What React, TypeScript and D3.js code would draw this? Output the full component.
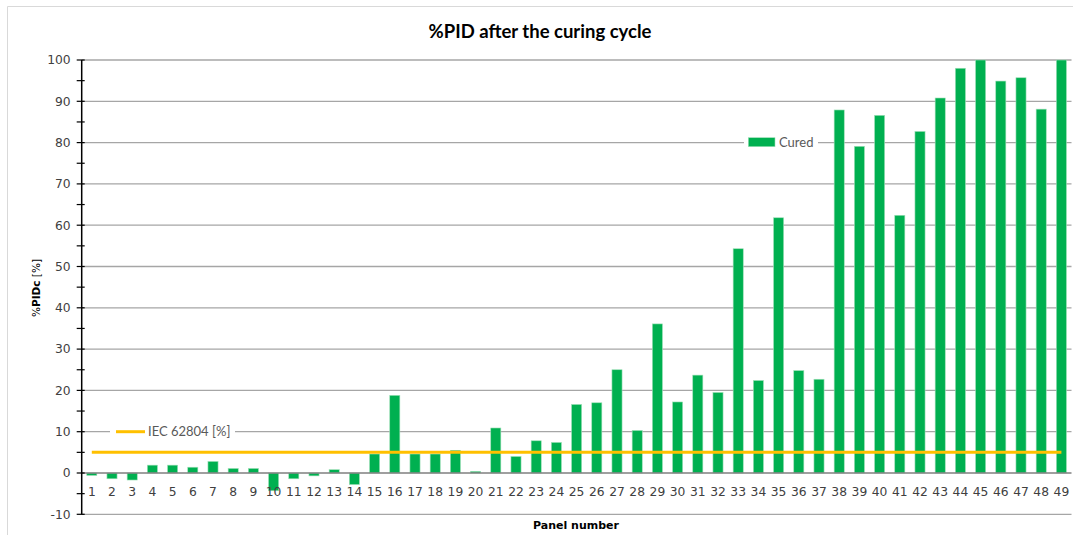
import React from "react";
import * as d3 from "d3";

const panels: string[] = Array.from({ length: 49 }, (_, i) => String(i + 1));
const cured: number[] = [
  -0.6, -1.4, -1.7, 1.9, 1.9, 1.4, 2.8, 1.1, 1.1, -4.3,
  -1.4, -0.7, 0.8, -2.8, 4.6, 18.8, 4.6, 4.6, 5.5, 0.4,
  10.9, 4.0, 7.8, 7.4, 16.6, 17.0, 25.0, 10.3, 36.1, 17.2,
  23.7, 19.5, 54.3, 22.4, 61.8, 24.8, 22.7, 87.9, 79.1, 86.6,
  62.4, 82.7, 90.8, 98.0, 100, 94.9, 95.7, 88.1, 100,
];
const iecLimit: number[] = panels.map(() => 5);
const yTicks: number[] = [-10, 0, 10, 20, 30, 40, 50, 60, 70, 80, 90, 100];
const yMinorTicks: number[] = [-5, 5, 15, 25, 35, 45, 55, 65, 75, 85, 95];

const W = 1073;
const H = 535;
const left = 81.7;
const right = 1071.5;
const top = 60;
const bottom = 514.3;
const font = "'DejaVu Sans', Verdana, sans-serif";

export default function App() {
  const x = d3.scaleBand<string>().domain(panels).range([left, right]).paddingInner(0.5).paddingOuter(0.25);
  const xc = (p: string) => (x(p) as number) + x.bandwidth() / 2;
  const y = d3.scaleLinear().domain([-10, 100]).range([bottom, top]);
  const line = d3
    .line<number>()
    .x((_, i) => xc(panels[i]))
    .y((d) => y(d));

  return (
    <svg width={W} height={H} style={{ position: "absolute", left: 0, top: 0, background: "#fff" }}>
      <rect x={0} y={0} width={W} height={H} fill="#fff" />
      <line x1={7.5} y1={6.5} x2={W} y2={6.5} stroke="#d9d9d9" />
      <line x1={7.5} y1={6.5} x2={7.5} y2={H} stroke="#d9d9d9" />
      {/* gridlines */}
      {yTicks.filter((t) => t !== 0).map((t) => (
        <line key={t} x1={left} x2={right} y1={y(t)} y2={y(t)} stroke="#a6a6a6" strokeWidth={1.3} />
      ))}
      {/* bars */}
      {cured.map((v, i) => {
        const y0 = y(0);
        const yv = y(v);
        return (
          <rect
            key={i}
            x={x(panels[i]) as number}
            y={Math.min(y0, yv)}
            width={x.bandwidth()}
            height={Math.abs(yv - y0)}
            fill="#00B050"
            stroke="#9fe0b8"
            strokeWidth={0.6}
          />
        );
      })}
      {/* zero axis */}
      <line x1={left} x2={right} y1={y(0)} y2={y(0)} stroke="#7f7f7f" strokeWidth={1.5} />
      {/* IEC line */}
      <path d={line(iecLimit) as string} fill="none" stroke="#FFC000" strokeWidth={3} />
      {/* y axis */}
      <line x1={left} x2={left} y1={top} y2={bottom} stroke="#000" strokeWidth={1.5} />
      {yTicks.map((t) => (
        <g key={t}>
          <line x1={left - 5} x2={left + 3} y1={y(t)} y2={y(t)} stroke="#000" strokeWidth={1.2} />
          <text x={left - 11} y={y(t)} dy="0.35em" textAnchor="end" fontFamily={font} fontSize={12.3} fill="#404040">
            {t}
          </text>
        </g>
      ))}
      {yMinorTicks.map((t) => (
        <line key={t} x1={left - 5} x2={left + 3} y1={y(t)} y2={y(t)} stroke="#000" strokeWidth={1.2} />
      ))}
      {/* x labels */}
      {panels.map((p) => (
        <text key={p} x={xc(p)} y={496} textAnchor="middle" fontFamily={font} fontSize={12.3} fill="#404040">
          {p}
        </text>
      ))}
      {/* title */}
      <text x={540} y={38} textAnchor="middle" fontFamily="Lato, 'Open Sans', sans-serif" fontWeight="bold" fontSize={18.5} fill="#000">
        %PID after the curing cycle
      </text>
      {/* axis titles */}
      <text x={576} y={529} textAnchor="middle" fontFamily={font} fontWeight="bold" fontSize={11} fill="#000">
        Panel number
      </text>
      <text transform="translate(40,288) rotate(-90)" textAnchor="middle" fontFamily={font} fontSize={10.5} fill="#000">
        <tspan>%</tspan>
        <tspan fontWeight="bold">PIDc</tspan>
        <tspan> [%]</tspan>
      </text>
      {/* legend: Cured */}
      <rect x={744} y={134} width={74} height={16} fill="#fff" />
      <rect x={748.3} y={137.7} width={26.7} height={9} fill="#00B050" stroke="#9fe0b8" strokeWidth={0.6} />
      <text x={779} y={142} dy="0.35em" fontFamily="Lato, 'Open Sans', sans-serif" fontSize={13} fill="#595959">
        Cured
      </text>
      {/* legend: IEC */}
      <rect x={110} y={424} width={125} height={16} fill="#fff" />
      <line x1={116} x2={145} y1={y(10)} y2={y(10)} stroke="#FFC000" strokeWidth={3} />
      <text x={148} y={y(10)} dy="0.35em" fontFamily="Lato, 'Open Sans', sans-serif" fontSize={13} fill="#595959">
        IEC 62804 [%]
      </text>
    </svg>
  );
}
